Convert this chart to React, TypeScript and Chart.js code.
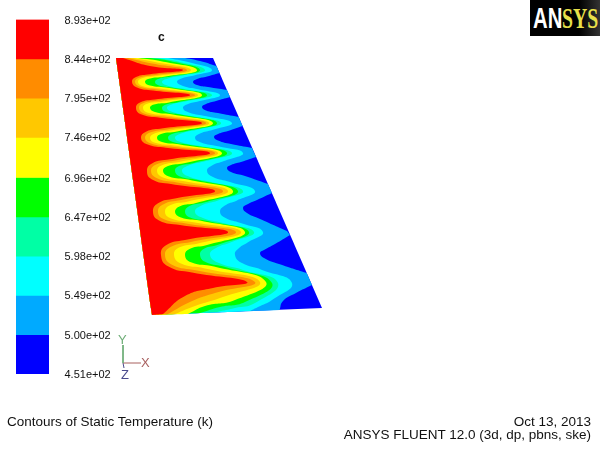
import React, { useEffect, useRef } from "react";
import { Chart, registerables } from "chart.js";

Chart.register(...registerables);

const levels = [893, 844, 795, 746, 696, 647, 598, 549, 500, 451];
const tickLabels = ["8.93e+02", "8.44e+02", "7.95e+02", "7.46e+02", "6.96e+02", "6.47e+02", "5.98e+02", "5.49e+02", "5.00e+02", "4.51e+02"];
const bandColors = ["#ff0000", "#ff8c00", "#ffc800", "#ffff00", "#00ff00", "#00ffa5", "#00ffff", "#00aaff", "#0000ff"];

const topLeft = [116, 58];
const bottomLeft = [152, 315];
const blueBase = [116, 58, 213, 58, 322, 308, 152, 315];

const curve844 = [123,58, 150,66, 183,70, 150,74.2, 136,77, 132,82, 137,87.5, 153,90.5, 190,95, 155,99.5, 140,102.5, 136,108, 141,114.3, 160,117.8, 202,123, 163,128.3, 146,131.7, 141,138, 147,144.3, 166,147.8, 210,153, 170,159.3, 152,163.4, 147,171, 152,179.4, 171,184, 215,191, 175,198.4, 158,203.2, 153,212, 159,220.4, 180,225, 228,232, 185,240, 166,245.3, 161,255, 168,266.3, 192,272.6, 247,282, 213,288, 185,296, 163,314];
const curve795 = [128,58, 152,63.5, 187,70, 154,75.2, 139,77.7, 135,82, 140,86.7, 157,89.4, 195,95, 159,100.6, 143,103.3, 139,108, 144,113.4, 163,116.6, 206,123, 167,129.4, 150,132.6, 145,138, 151,143.4, 170,146.6, 215,153, 174,160.7, 156,164.5, 151,171, 157,178.2, 177,182.4, 223,191, 181,200, 163,204.4, 158,212, 164,219.2, 186,223.4, 236,232, 191,241.9, 171,246.7, 165,255, 172,264.7, 197,270.4, 255,282, 215,293, 190,302, 168,314];
const curve746 = [133,58, 155,62, 191,70, 157,76, 142,78.2, 138,82, 143,86.2, 160,88.5, 198,95, 163,101.5, 147,103.8, 143,108, 148,112.8, 167,115.5, 209,123, 171,130.5, 155,133.2, 150,138, 155,142.8, 174,145.5, 218,153, 179,162, 162,165.2, 157,171, 163,177.4, 183,181, 228,191, 188,201.5, 170,205.3, 165,212, 171,218.4, 192,222, 241,232, 198,243.5, 179,247.6, 174,255, 181,263.6, 205,268.5, 260,282, 220,298, 195,306, 175,314];
const curve696 = [138,58, 160,61, 197,70, 164,76.8, 149,78.8, 145,82, 150,85.5, 166,87.6, 202,95, 169,102.4, 154,104.5, 150,108, 155,112, 173,114.5, 213,123, 177,131.5, 161,134, 157,138, 162,142, 180,144.5, 222,153, 184,163.3, 168,166.1, 163,171, 169,176.4, 188,179.6, 233,191, 196,203, 180,206.3, 175,212, 181,217.4, 200,220.6, 245,232, 207,245.1, 190,248.8, 185,255, 191,262.3, 214,266.6, 266,282, 235,300, 205,306, 188,314];
const curve647 = [150,58, 170,61, 200,70, 171,76.6, 159,78.8, 155,82, 159,85.5, 174,87.9, 207,95, 178,102.2, 166,104.5, 162,108, 166,112, 182,114.8, 217,123, 186,131.3, 172,134, 168,138, 173,142, 189,144.8, 227,153, 194,162.9, 179,166.1, 175,171, 180,176.4, 198,180, 238,191, 204,202.6, 189,206.3, 185,212, 190,217.4, 208,221, 249,232, 218,244.7, 204,248.8, 200,255, 206,262.3, 226,267.2, 272,283, 245,302, 220,307, 200,313];
const curve598 = [158,58, 180,62, 205,70, 183,75.4, 168,78.4, 162,82, 168.5,85.9, 186,89.2, 212,95, 189,100.8, 173,104.1, 167,108, 174,112.5, 193,116.3, 221,123, 197,129.7, 181,133.5, 175,138, 182,142.5, 202,146.3, 232,153, 206,161.1, 188.5,165.6, 182,171, 190,177, 211,182, 243,191, 218,200.4, 201,205.7, 195,212, 203,218, 223,223, 254,232, 231,242.3, 216,248.1, 210,255, 219,263.1, 243,269.9, 278,283, 255,303, 235,308, 217,312];
const curve549 = [168,58, 192,63, 212,70, 194,75.4, 181.5,78.4, 177,82, 183,85.9, 198,89.2, 220,95, 201,100.8, 188,104.1, 183,108, 189,112.5, 206.5,116.3, 232,123, 213,129.7, 200,133.5, 195,138, 201,142.5, 218,146.3, 243,153, 224,161.1, 212,165.6, 207,171, 213,177, 230,182, 255,191, 237,200.4, 224.5,205.7, 220,212, 225.6,218, 240.6,223, 263,232, 248,242.3, 239,248.1, 235,255, 242,263.1, 262,269.9, 292,283, 272,300, 258,307, 250,311];
const curve500 = [185,58, 200,61, 216.5,66, 216.5,66, 219.5,73, 219.5,73, 207,76.5, 197,79, 193,82, 197,85, 208,87, 227,90, 227,90, 230,97, 230,97, 216,101, 206,104, 202,107, 206,110.5, 218,113, 238.7,117, 238.7,117, 242.6,126, 242.6,126, 228,131, 218,134, 214,137, 218,140.5, 231,144, 252,148, 252,148, 256,157, 256,157, 241,162, 231,165, 227,168, 231,172, 245,176, 268,184, 268,184, 272,193, 272,193, 257,200, 247,204.5, 243,208, 247,213, 260,219, 287,231, 287,231, 290,235, 290,235, 275,244, 264,250, 260,253, 264,258, 279,264, 306.7,273, 306.7,273, 312,285, 312,285, 296,293, 283,301, 279.5,310];
const contourCurves = [curve844, curve795, curve746, curve696, curve647, curve598, curve549, curve500];

const triadY = [123, 345, 123, 363];
const triadX = [123, 363, 141, 363];
const triadZ = [123, 363, 124, 368];

const toPoints = (flat: number[]) => {
  const out: { x: number; y: number }[] = [];
  for (let i = 0; i < flat.length; i += 2) out.push({ x: flat[i], y: flat[i + 1] });
  return out;
};

const regionPoints = (curve: number[]) => {
  const pts = toPoints(curve);
  const first = pts[0];
  const last = pts[pts.length - 1];
  const tl = { x: topLeft[0], y: topLeft[1] };
  const bl = { x: bottomLeft[0], y: bottomLeft[1] };
  return [tl, tl, first, ...pts, last, bl, bl, tl];
};

const FONT = "'Liberation Sans', Arial, sans-serif";

const textStyle = (left: number, top: number, extra: React.CSSProperties = {}): React.CSSProperties => ({
  position: "absolute",
  left,
  top,
  fontFamily: FONT,
  fontSize: 13.5,
  lineHeight: "14px",
  color: "#111",
  whiteSpace: "nowrap",
  ...extra,
});

export default function App() {
  const barRef = useRef<HTMLCanvasElement | null>(null);
  const fieldRef = useRef<HTMLCanvasElement | null>(null);

  useEffect(() => {
    const barChart = new Chart(barRef.current as HTMLCanvasElement, {
      type: "bar",
      data: {
        labels: ["Static Temperature"],
        datasets: bandColors.map((color, i) => ({
          data: [[levels[i + 1], levels[i]]],
          backgroundColor: color,
          borderWidth: 0,
          barPercentage: 1,
          categoryPercentage: 1,
        })),
      } as any,
      options: {
        responsive: false,
        animation: false,
        layout: { padding: { left: 16, right: 0, top: 19.5, bottom: 76 } },
        plugins: { legend: { display: false }, tooltip: { enabled: false } },
        scales: {
          x: { display: false, stacked: true },
          y: {
            position: "right",
            min: 451,
            max: 893,
            grid: { display: false, drawTicks: false },
            border: { display: false },
            afterBuildTicks: (s: any) => {
              s.ticks = levels.map((value) => ({ value }));
            },
            afterFit: (s: any) => {
              s.width = 81;
              s.paddingTop = 0;
              s.paddingBottom = 0;
            },
            ticks: {
              autoSkip: false,
              padding: 15.5,
              labelOffset: 1,
              color: "#111",
              font: { family: FONT, size: 11 },
              callback: (v: any) => tickLabels[levels.indexOf(Number(v))],
            },
          },
        },
      } as any,
    });

    const region = (points: any[], color: string) => ({
      data: points,
      showLine: true,
      fill: "shape",
      tension: 0.5,
      borderWidth: 0,
      pointRadius: 0,
      backgroundColor: color,
      borderColor: color,
    });
    const stroke = (flat: number[], color: string) => ({
      data: toPoints(flat),
      showLine: true,
      fill: false,
      borderWidth: 1,
      pointRadius: 0,
      borderColor: color,
    });

    const fieldChart = new Chart(fieldRef.current as HTMLCanvasElement, {
      type: "scatter",
      data: {
        datasets: [
          stroke(triadY, "#6fae78"),
          stroke(triadX, "#a8605f"),
          stroke(triadZ, "#4a4a8c"),
          ...contourCurves.map((c, i) => region(regionPoints(c), bandColors[i])),
          { ...region(toPoints(blueBase), bandColors[8]), tension: 0 },
        ],
      } as any,
      options: {
        responsive: false,
        animation: false,
        layout: { padding: 0 },
        plugins: { legend: { display: false }, tooltip: { enabled: false } },
        scales: {
          x: { type: "linear", min: 0, max: 600, display: false },
          y: { type: "linear", min: 0, max: 450, reverse: true, display: false },
        },
      } as any,
    });

    return () => {
      barChart.destroy();
      fieldChart.destroy();
    };
  }, []);

  return (
    <div style={{ position: "fixed", left: 0, top: 0, width: 600, height: 450, background: "#fff", overflow: "hidden" }}>
      <canvas ref={barRef} width={130} height={450} style={{ position: "absolute", left: 0, top: 0 }} />
      <canvas ref={fieldRef} width={600} height={450} style={{ position: "absolute", left: 0, top: 0 }} />
      <div style={textStyle(158, 30, { fontSize: 12, fontWeight: 700 })}>c</div>
      <div style={textStyle(118, 333, { color: "#6fae78", fontSize: 13 })}>Y</div>
      <div style={textStyle(141, 356, { color: "#a8605f", fontSize: 13 })}>X</div>
      <div style={textStyle(121, 368, { color: "#4a4a8c", fontSize: 13 })}>Z</div>
      <div style={textStyle(7, 415)}>Contours of Static Temperature (k)</div>
      <div style={textStyle(0, 415, { left: "auto", right: 9 })}>Oct 13, 2013</div>
      <div style={textStyle(0, 428, { left: "auto", right: 9 })}>ANSYS FLUENT 12.0 (3d, dp, pbns, ske)</div>
      <div style={{ position: "absolute", left: 530, top: 0, width: 70, height: 36, background: "linear-gradient(90deg,#000 0%,#000 70%,#333 100%)" }}>
        <span style={{ position: "absolute", left: 3, top: 2, fontFamily: FONT, fontWeight: 700, fontSize: 29, lineHeight: "32px", color: "#fff", transform: "scaleX(0.7)", transformOrigin: "left top" }}>AN</span>
        <span style={{ position: "absolute", left: 32, top: 2, fontFamily: "'Liberation Serif', serif", fontWeight: 700, fontSize: 29, lineHeight: "32px", color: "#e8e04a", transform: "scaleX(0.68)", transformOrigin: "left top" }}>SYS</span>
      </div>
    </div>
  );
}
